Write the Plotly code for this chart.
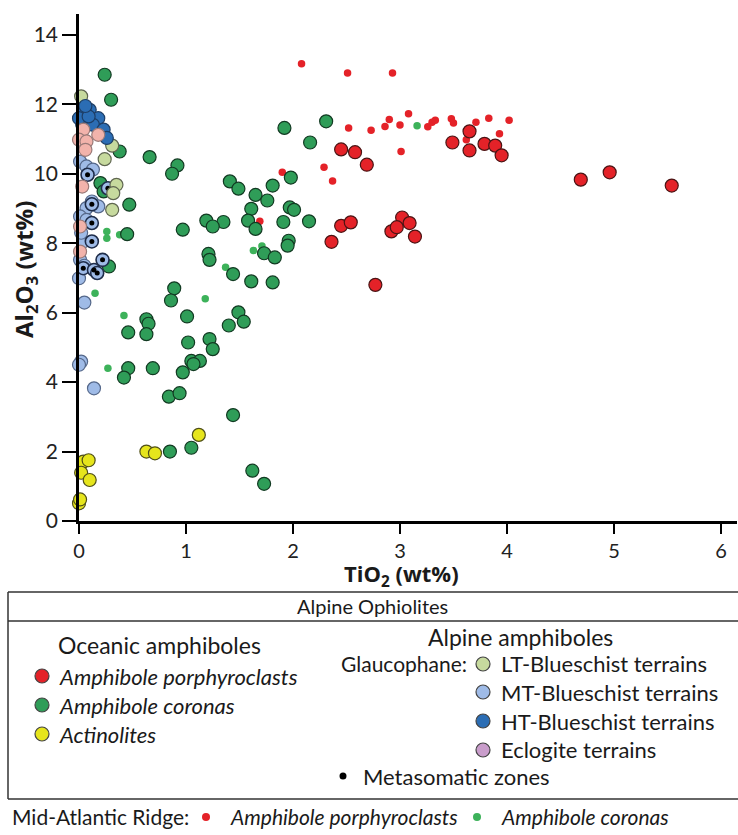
import plotly.graph_objects as go

# ---------------- data (TiO2 wt%, Al2O3 wt%) ----------------
porph_x = [2.45, 2.58, 2.69, 3.49, 3.65, 3.65, 3.79, 3.89, 3.95, 2.45, 2.54, 2.36, 3.02, 3.09,
           2.92, 2.97, 3.14, 2.77, 4.69, 4.96, 5.54]
porph_y = [10.70, 10.62, 10.26, 10.90, 11.22, 10.67, 10.86, 10.81, 10.53, 8.50, 8.60, 8.04, 8.74, 8.58,
           8.34, 8.46, 8.19, 6.80, 9.83, 10.04, 9.66]

coron_x = [0.66, 0.92, 0.87, 1.92, 2.31, 2.16, 1.41, 1.49, 1.81, 1.98, 1.65, 1.76, 1.61, 1.97, 2.01,
           1.19, 1.35, 1.25, 0.97, 1.58, 1.65, 1.91, 2.15, 1.96, 1.95, 1.21, 1.22, 1.73, 1.83, 1.44,
           1.61, 1.81, 0.89, 0.86, 0.63, 0.65, 0.46, 0.63, 1.01, 1.49, 1.54, 1.40, 1.02, 1.22, 1.25,
           1.05, 1.13, 1.07, 0.97, 0.69, 0.46, 0.42, 0.84, 0.94, 1.44, 0.85, 1.05, 1.62, 1.73, 0.24,
           0.30, 0.38, 0.20, 0.23, 0.47, 0.45, 0.28]
coron_y = [10.48, 10.24, 10.00, 11.32, 11.51, 10.90, 9.78, 9.57, 9.66, 9.89, 9.39, 9.23, 8.99, 9.03, 8.96,
           8.65, 8.61, 8.48, 8.39, 8.65, 8.41, 8.61, 8.63, 8.07, 7.93, 7.69, 7.52, 7.71, 7.59, 7.11,
           6.90, 6.87, 6.70, 6.35, 5.81, 5.68, 5.43, 5.38, 5.89, 6.01, 5.74, 5.63, 5.14, 5.24, 4.95,
           4.61, 4.61, 4.52, 4.28, 4.40, 4.40, 4.13, 3.58, 3.68, 3.05, 2.00, 2.11, 1.45, 1.07, 12.85,
           12.13, 10.64, 9.73, 9.49, 9.11, 8.26, 7.33]

actin_x = [0.04, 0.09, 0.02, 0.10, 0.00, 0.01, 0.63, 0.71, 1.12]
actin_y = [1.71, 1.75, 1.39, 1.18, 0.51, 0.62, 2.00, 1.95, 2.48]

lt_x = [0.02, 0.31, 0.24, 0.35, 0.32, 0.31]
lt_y = [12.23, 10.81, 10.42, 9.68, 9.44, 8.96]

mt_x = [0.01, 0.07, 0.13, 0.12, 0.18, 0.07, 0.01, 0.07, 0.04, 0.01, 0.00, 0.05, 0.02, 0.00, 0.14,
        0.02, 0.05]
mt_y = [10.35, 10.21, 10.12, 9.20, 9.06, 9.01, 8.77, 8.67, 8.05, 7.52, 6.99, 6.29, 4.59, 4.50, 3.82,
        8.30, 7.35]

ht_x = [0.04, 0.10, 0.18, 0.03, 0.13, 0.23, 0.00, 0.26, 0.09, 0.06]
ht_y = [11.84, 11.84, 11.60, 11.41, 11.41, 11.27, 11.60, 11.03, 11.65, 11.95]

eclo_x = [0.04, 0.00, 0.07, 0.18, 0.06, 0.03, 0.01, 0.01]
eclo_y = [11.27, 10.98, 10.93, 11.12, 10.69, 9.63, 8.48, 7.76]

meta_x = [0.08, 0.27, 0.12, 0.12, 0.12, 0.04, 0.14, 0.22, 0.17]
meta_y = [9.97, 9.58, 9.12, 8.58, 8.05, 7.28, 7.23, 7.52, 7.14]

mar_porph_x = [2.08, 2.51, 2.93, 2.52, 2.73, 2.86, 2.90, 3.00, 3.08, 3.26, 3.30, 3.33, 3.48, 3.50,
               3.71, 3.83, 4.02, 3.93, 3.62, 3.01, 2.29, 2.37, 1.90, 1.69]
mar_porph_y = [13.17, 12.90, 12.90, 11.32, 11.25, 11.36, 11.56, 11.40, 11.73, 11.35, 11.48, 11.54, 11.58, 11.46,
               11.48, 11.60, 11.54, 11.15, 10.98, 10.64, 10.19, 9.79, 10.04, 8.63]

mar_cor_x = [3.16, 1.63, 1.71, 1.37, 1.18, 0.26, 0.26, 0.38, 0.15, 0.42, 0.27]
mar_cor_y = [11.38, 7.79, 7.92, 7.31, 6.40, 8.34, 8.14, 8.24, 6.56, 5.92, 4.40]

x_ticks = [0, 1, 2, 3, 4, 5, 6]
y_ticks = [0, 2, 4, 6, 8, 10, 12, 14]

# ---------------- styles ----------------
RED, GREEN, YELLOW = "#e42228", "#2f9d58", "#e6e51c"
LT, MT, HT, ECLO = "#c7da9e", "#9fbbe7", "#2b6db4", "#f2b3ab"
ECLO_LEG = "#c99dcb"
SMALL_GREEN = "#3db25a"
FONT = "Lato"
TFONT = "Open Sans"

W, H = 738, 835
L, R, T, B = 79, 1, 14, 314
PW, PH = W - L - R, H - T - B


def px(x):
    return (x - L) / PW


def py(y):
    return (H - B - y) / PH


fig = go.Figure()


def big(x, y, color, line, name, size=13, lw=1.2):
    fig.add_trace(go.Scatter(x=x, y=y, mode="markers", name=name, cliponaxis=False,
                             marker=dict(size=size, color=color, line=dict(color=line, width=lw))))


# small Mid-Atlantic Ridge dots first (drawn behind)
fig.add_trace(go.Scatter(x=mar_cor_x, y=mar_cor_y, mode="markers", cliponaxis=False, name="MAR coronas",
                         marker=dict(size=7.5, color=SMALL_GREEN, line=dict(width=0))))
fig.add_trace(go.Scatter(x=mar_porph_x, y=mar_porph_y, mode="markers", cliponaxis=False, name="MAR porph",
                         marker=dict(size=7.5, color=RED, line=dict(width=0))))
big(coron_x, coron_y, GREEN, "#123a22", "Amphibole coronas")
big(porph_x, porph_y, RED, "#4a1414", "Amphibole porphyroclasts")
big(actin_x, actin_y, YELLOW, "#4f4f18", "Actinolites")
big(mt_x, mt_y, MT, "#55688a", "MT-Blueschist")
big(meta_x, meta_y, MT, "#1f2d4a", "MT-Blueschist (metasomatic)", lw=1.6)
fig.add_trace(go.Scatter(x=meta_x, y=meta_y, mode="markers", cliponaxis=False, name="Metasomatic zones",
                         marker=dict(size=5, color="black")))
big(lt_x, lt_y, LT, "#5f6650", "LT-Blueschist")
big(ht_x, ht_y, HT, "#1d3e66", "HT-Blueschist")
big(eclo_x, eclo_y, ECLO, "#9a7a78", "Eclogite")

shapes = []
annotations = []

# legend box lines
LINE = dict(color="#333333", width=1.5)
for (x0, y0, x1, y1) in [(8, 592, 738, 592), (8, 621, 738, 621), (8, 799, 738, 799), (8, 592, 8, 799)]:
    shapes.append(dict(type="line", xref="paper", yref="paper", x0=px(x0), y0=py(y0),
                       x1=px(x1), y1=py(y1), line=LINE, layer="above"))


def circ(cx, cy, color, d=14, lw=1.2, line="#444444"):
    r = d / 2
    shapes.append(dict(type="circle", xref="paper", yref="paper", xsizemode="pixel", ysizemode="pixel",
                       xanchor=px(cx), yanchor=py(cy), x0=-r, x1=r, y0=-r, y1=r,
                       fillcolor=color, line=dict(color=line, width=lw)))


def text(x, y, s, size=22, anchor="left", italic=False, family=FONT, angle=0):
    if italic:
        s = "<i>" + s + "</i>"
    annotations.append(dict(x=px(x), y=py(y), xref="paper", yref="paper", text=s, showarrow=False,
                            xanchor=anchor, yanchor="middle", textangle=angle,
                            font=dict(family=family, size=size, color="#1a1a1a")))


# axis titles
text(401, 575, "<b>TiO<sub>2</sub> (wt%)</b>", size=22, anchor="center", family=TFONT)
text(25, 270, "<b>Al<sub>2</sub>O<sub>3</sub> (wt%)</b>", size=24, anchor="center", family=TFONT, angle=-90)

text(372, 606, "Alpine Ophiolites", anchor="center", size=20)
text(56, 645, "Oceanic amphiboles", size=23)
for yy, col, lab in [(676, RED, "Amphibole porphyroclasts"), (705, GREEN, "Amphibole coronas"),
                     (734, YELLOW, "Actinolites")]:
    circ(42, yy, col)
    text(57, yy, lab, italic=True)

text(520, 637, "Alpine amphiboles", anchor="center", size=23)
text(339, 664, "Glaucophane:", size=21)
for yy, col, lab in [(664, LT, "LT-Blueschist terrains"), (692, MT, "MT-Blueschist terrains"),
                     (721, HT, "HT-Blueschist terrains"), (750, ECLO_LEG, "Eclogite terrains")]:
    circ(483, yy, col)
    text(499, yy, lab)
circ(343, 776, "black", d=7, lw=0, line="black")
text(361, 776, "Metasomatic zones")

text(10, 817, "Mid-Atlantic Ridge:", size=21)
circ(206, 817, RED, d=8, lw=0, line=RED)
text(228, 817, "Amphibole porphyroclasts", italic=True, size=21)
circ(477, 817, SMALL_GREEN, d=8, lw=0, line=SMALL_GREEN)
text(499, 817, "Amphibole coronas", italic=True, size=21)

fig.update_layout(
    width=W, height=H, margin=dict(l=L, r=R, t=T, b=B, pad=0, autoexpand=False),
    paper_bgcolor="white", plot_bgcolor="white", showlegend=False,
    shapes=shapes, annotations=annotations,
    font=dict(family=FONT, color="#222222"),
)
fig.update_xaxes(range=[0, 6.15], tickvals=x_ticks, showgrid=False, zeroline=False, automargin=False,
                 showline=True, linecolor="black", linewidth=2.5, ticks="outside", ticklen=10,
                 tickwidth=2, tickcolor="black", tickfont=dict(family=FONT, size=20, color="#222222"))
fig.update_yaxes(range=[0, 14.6], tickvals=y_ticks, showgrid=False, zeroline=False, automargin=False,
                 showline=True, linecolor="black", linewidth=2.5, ticks="outside", ticklen=14,
                 tickwidth=2, tickcolor="black", tickfont=dict(family=FONT, size=21, color="#222222"))

fig.write_html("out.html", config={"displayModeBar": False},
               post_script="document.body.style.margin='0px';document.body.style.overflow='hidden';")
